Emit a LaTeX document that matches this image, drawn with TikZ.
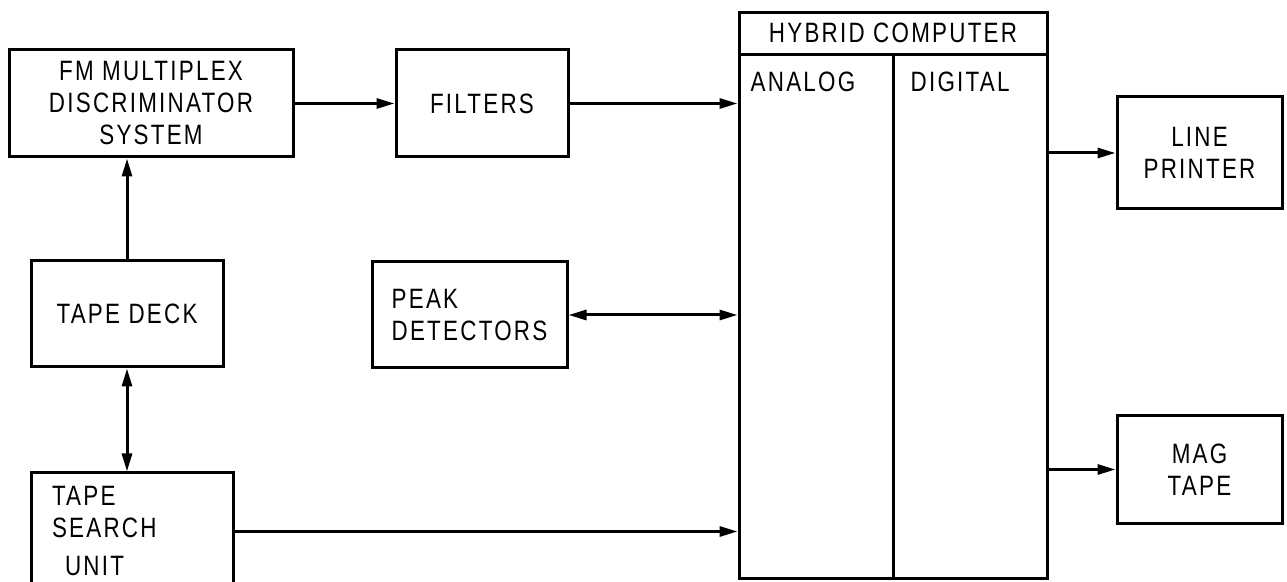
\documentclass[tikz,border=0pt]{standalone}
\usepackage{fontspec}
\setmainfont{Liberation Sans}[FakeStretch=0.8,LetterSpace=8]
\usetikzlibrary{arrows.meta, positioning}

\begin{document}
\begin{tikzpicture}[
    x=1pt, y=1pt,
    node distance=100pt,
    box/.style={rectangle, draw, line width=3pt, inner sep=0pt,
                align=center, font=\fontsize{28}{32}\selectfont},
    lbl/.style={inner sep=0pt, font=\fontsize{28}{32}\selectfont},
    arr/.style={-{Triangle[length=18pt,width=10pt]}, line width=3pt},
    dblarr/.style={{Triangle[length=18pt,width=10pt]}-{Triangle[length=18pt,width=10pt]},
                   line width=3pt}
]
    \useasboundingbox[fill=white] (0,0) rectangle (1287,581);

    \node[box, minimum width=284pt, minimum height=107pt] (fm) at (151,477.5)
        {FM MULTIPLEX\\DISCRIMINATOR\\SYSTEM};
    \node[box, minimum width=172pt, minimum height=107pt, right=of fm] (filters) {FILTERS};
    \node[box, minimum width=192pt, minimum height=106pt] (deck) at (127,267) {TAPE DECK};
    \node[box, minimum width=195pt, minimum height=106pt, align=left] (peak) at (469.5,266)
        {PEAK\\DETECTORS};
    \node[box, minimum width=202pt, minimum height=117pt, text width=160pt,
          inner xsep=21pt, align=left] (search) at (132,49.5)
        {TAPE\\SEARCH\\[6pt]\hspace*{13pt}UNIT};

    % hybrid computer with its header and two halves
    \node[box, minimum width=308pt, minimum height=565pt] (hyb) at (893,285.5) {};
    \draw[line width=3pt] ([yshift=-43pt]hyb.north west) -- ([yshift=-43pt]hyb.north east);
    \draw[line width=3pt] ([xshift=156pt,yshift=-43pt]hyb.north west)
        -- ([xshift=156pt]hyb.south west);
    \node[lbl] (hybtitle) at ([yshift=-21pt]hyb.north) {HYBRID COMPUTER};
    \node[lbl, anchor=west] (analog) at ([xshift=13pt,yshift=-70pt]hyb.north west) {ANALOG};
    \node[lbl, anchor=west] (digital) at ([xshift=173pt,yshift=-70pt]hyb.north west) {DIGITAL};

    \node[box, minimum width=165pt, minimum height=112pt] (printer) at (1199.5,428)
        {LINE\\PRINTER};
    \node[box, minimum width=165pt, minimum height=108pt] (mag) at (1199.5,111.5)
        {MAG\\TAPE};

    \draw[arr] (fm) -- (filters);
    \draw[arr] (filters) -- (filters -| hyb.west);
    \draw[arr] (deck) -- (deck |- fm.south);
    \draw[dblarr] (deck |- search.north) -- (deck);
    \draw[dblarr] (peak) -- (peak -| hyb.west);
    \draw[arr] (search) -- (search -| hyb.west);
    \draw[arr] (hyb.east |- printer) -- (printer);
    \draw[arr] (hyb.east |- mag) -- (mag);
\end{tikzpicture}
\end{document}
